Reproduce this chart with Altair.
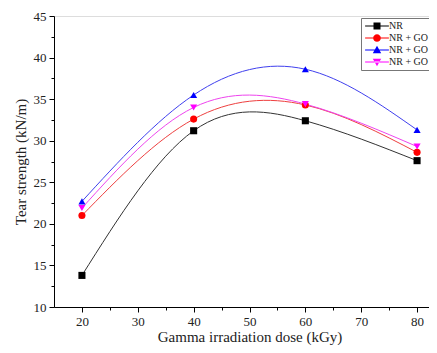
import altair as alt
import pandas as pd

dose = [20, 40, 60, 80]
series = ["NR", "NR + GO 1 phr", "NR + GO 3 phr", "NR + GO 5 phr"]
nr = [13.8, 31.2, 32.4, 27.6]
go1 = [21.0, 32.6, 34.3, 28.6]
go3 = [22.7, 35.5, 38.6, 31.3]
go5 = [21.9, 34.0, 34.4, 29.3]
colors = ["#000000", "#ff0000", "#0000ff", "#ff00ff"]
line_colors = ["#333333", "#ee4040", "#4040ee", "#ee44ee"]
shapes = ["square", "circle", "triangle-up", "triangle-down"]

# legend symbols: a short line with the marker on it (path units: [-1, 1] = sqrt(symbolSize) px)
bar = "M-3.4,-0.14H3.4V0.14H-3.4Z "
legend_shapes = [
    bar + "M-1,-1H1V1H-1Z",
    bar + "M1.1,0A1.1,1.1 0 1,1 -1.1,0A1.1,1.1 0 1,1 1.1,0Z",
    bar + "M0,-1.2L1.2,0.9L-1.2,0.9Z",
    bar + "M0,1.2L1.2,-0.9L-1.2,-0.9Z",
]

rows = []
for name, vals in zip(series, [nr, go1, go3, go5]):
    for d, v in zip(dose, vals):
        rows.append({"dose": d, "value": v, "series": name})
df = pd.DataFrame(rows)

font = "Liberation Serif"
ink = "#222222"

x = alt.X("dose:Q", scale=alt.Scale(domain=[15, 85], nice=False),
          axis=alt.Axis(title="Gamma irradiation dose (kGy)",
                        values=[20, 25, 30, 35, 40, 45, 50, 55, 60, 65, 70, 75, 80],
                        labelExpr="datum.value % 10 === 0 ? datum.label : ''",
                        tickSize={"expr": "datum.value % 10 === 0 ? 5 : 3"},
                        grid=False, domainColor="black", tickColor="black",
                        labelFont=font, labelFontSize=13, labelColor=ink,
                        labelPadding=3, titleFont=font, titleFontSize=15,
                        titleFontWeight="normal", titleColor=ink, titlePadding=1))
y = alt.Y("value:Q", scale=alt.Scale(domain=[10, 45], nice=False),
          axis=alt.Axis(title="Tear strength (kN/m)",
                        values=[10 + 2.5 * i for i in range(15)],
                        labelExpr="datum.value % 5 === 0 ? datum.label : ''",
                        tickSize={"expr": "datum.value % 5 === 0 ? 5 : 3"},
                        grid=False, domainColor="black", tickColor="black",
                        labelFont=font, labelFontSize=13, labelColor=ink,
                        labelPadding=3, titleFont=font, titleFontSize=15,
                        titleFontWeight="normal", titleColor=ink, titlePadding=5))

lines = alt.Chart(df).mark_line(interpolate="natural", strokeWidth=1).encode(
    x=x, y=y,
    color=alt.Color("series:N", scale=alt.Scale(domain=series, range=line_colors), legend=None),
    detail="series:N",
)

points = alt.Chart(df).mark_point(filled=True, size=50, opacity=1).encode(
    x=x, y=y,
    color=alt.Color("series:N", scale=alt.Scale(domain=series, range=colors), legend=None),
    shape=alt.Shape("series:N", scale=alt.Scale(domain=series, range=shapes), legend=None),
)

legend_layer = alt.Chart(df).transform_filter("false").mark_point(filled=True, size=49, opacity=1).encode(
    x=x, y=y,
    color=alt.Color("series:N", scale=alt.Scale(domain=series, range=colors),
                    legend=alt.Legend(title=None, orient="none", legendX=307, legendY=2,
                                      labelFont=font, labelFontSize=10, labelColor=ink,
                                      symbolSize=49, symbolStrokeWidth=0,
                                      symbolOffset=8, labelOffset=7,
                                      rowPadding=2, padding=3,
                                      fillColor="white", strokeColor="#777777",
                                      labelLimit=300)),
    shape=alt.Shape("series:N", scale=alt.Scale(domain=series, range=legend_shapes)),
)

chart = alt.layer(lines, points, legend_layer).resolve_scale(
    color="independent", shape="independent"
).properties(
    width=391, height=291,
    autosize=alt.AutoSizeParams(type="none"),
    padding={"left": 46, "top": 8, "right": -16, "bottom": 38},
).configure_view(stroke="black", strokeWidth=1).configure(background="white")

chart.save("out.html", embed_options={"renderer": "svg", "actions": False})
